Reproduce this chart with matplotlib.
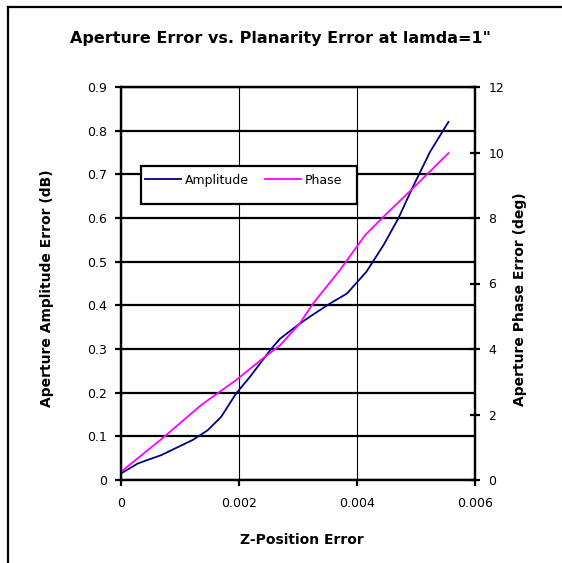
import matplotlib
matplotlib.use("Agg")
import matplotlib.pyplot as plt
from matplotlib.lines import Line2D
from matplotlib.patches import Rectangle
from matplotlib.ticker import FixedLocator, FuncFormatter

plt.rcParams['font.family'] = ['DejaVu Sans']

amp_x = [0.0, 0.000288, 0.000683, 0.00122, 0.00147, 0.0017, 0.00195, 0.00219,
         0.00255, 0.0027, 0.0030, 0.0032, 0.00354, 0.00383, 0.00416, 0.00445,
         0.0047, 0.00495, 0.00524, 0.00555]
amp_y = [0.015, 0.038, 0.057, 0.092, 0.114, 0.145, 0.198, 0.237,
         0.301, 0.324, 0.355, 0.374, 0.404, 0.427, 0.477, 0.538,
         0.599, 0.672, 0.752, 0.820]

ph_x = [0.0, 0.00068, 0.00136, 0.00195, 0.00241, 0.0027, 0.00303, 0.00326,
        0.00371, 0.00414, 0.00445, 0.00495, 0.00555]
ph_y = [0.25, 1.24, 2.29, 3.05, 3.72, 4.12, 4.78, 5.40,
        6.41, 7.48, 8.04, 8.91, 9.98]

x_ticks = [0, 0.002, 0.004, 0.006]
x_labels = ['0', '0.002', '0.004', '0.006']
left_ticks = [0, 0.1, 0.2, 0.3, 0.4, 0.5, 0.6, 0.7, 0.8, 0.9]
right_ticks = [0, 2, 4, 6, 8, 10, 12]

W, H = 562, 563
fig = plt.figure(figsize=(W/100, H/100), dpi=100)
fig.patch.set_facecolor('white')

ax = fig.add_axes([121/W, 1-480/H, (475-121)/W, (480-87)/H])
ax2 = ax.twinx()

ax.set_xlim(0, 0.006)
ax.set_ylim(0, 0.9)
ax2.set_ylim(0, 12)

ax.xaxis.set_major_locator(FixedLocator(x_ticks))
ax.set_xticklabels(x_labels)
ax.yaxis.set_major_locator(FixedLocator(left_ticks))
ax.yaxis.set_major_formatter(FuncFormatter(lambda v, p: '0' if v == 0 else f'{v:.1f}'))
ax2.yaxis.set_major_locator(FixedLocator(right_ticks))

ax.grid(True, axis='y', color='black', lw=1.6)
ax.grid(True, axis='x', color='black', lw=0.8)
ax.set_axisbelow(True)

for a in (ax, ax2):
    for s in a.spines.values():
        s.set_linewidth(1.6)
        s.set_color('black')

ax.tick_params(axis='x', direction='out', length=4, width=1.6, labelsize=9, pad=8)
ax.tick_params(axis='y', direction='out', length=4, width=1.6, labelsize=9, pad=6)
ax2.tick_params(axis='y', direction='inout', length=7, width=1.6, labelsize=9, pad=6)

l1, = ax.plot(amp_x, amp_y, color='#000080', lw=1.3, label='Amplitude')
l2, = ax2.plot(ph_x, ph_y, color='#FF00FF', lw=1.3, label='Phase')

ax.set_xlabel('Z-Position Error', fontsize=10, fontweight='bold')
ax.xaxis.set_label_coords(0.511, -0.134)
ax.set_ylabel('Aperture Amplitude Error (dB)', fontsize=10, fontweight='bold')
ax.yaxis.set_label_coords(-0.19, 0.489)
ax2.set_ylabel('Aperture Phase Error (deg)', fontsize=10, fontweight='bold')
ax2.yaxis.set_label_coords(1.106, 0.46)

fig.text(280/W, 1-38/H, 'Aperture Error vs. Planarity Error at lamda=1"', ha='center', va='center',
         fontsize=11.5, fontweight='bold')

ax2.add_patch(Rectangle((0.0556, 0.702), 0.666-0.0556, 0.097, transform=ax2.transAxes,
                        facecolor='white', edgecolor='black', lw=1.6, zorder=4))
leg = ax2.legend(handles=[l1, l2], ncol=2, loc='center left', bbox_to_anchor=(0.06, 0.763),
                 frameon=False, fontsize=9, handlelength=2.9, columnspacing=1.3,
                 handletextpad=0.3, borderpad=0.2, borderaxespad=0)
leg.set_zorder(5)

fig.add_artist(Line2D([8/W, 1], [1-7/H, 1-7/H], transform=fig.transFigure, color='black', lw=1.6))
fig.add_artist(Line2D([8/W, 8/W], [0, 1-7/H], transform=fig.transFigure, color='black', lw=1.6))

fig.savefig('out.png', dpi=100)
